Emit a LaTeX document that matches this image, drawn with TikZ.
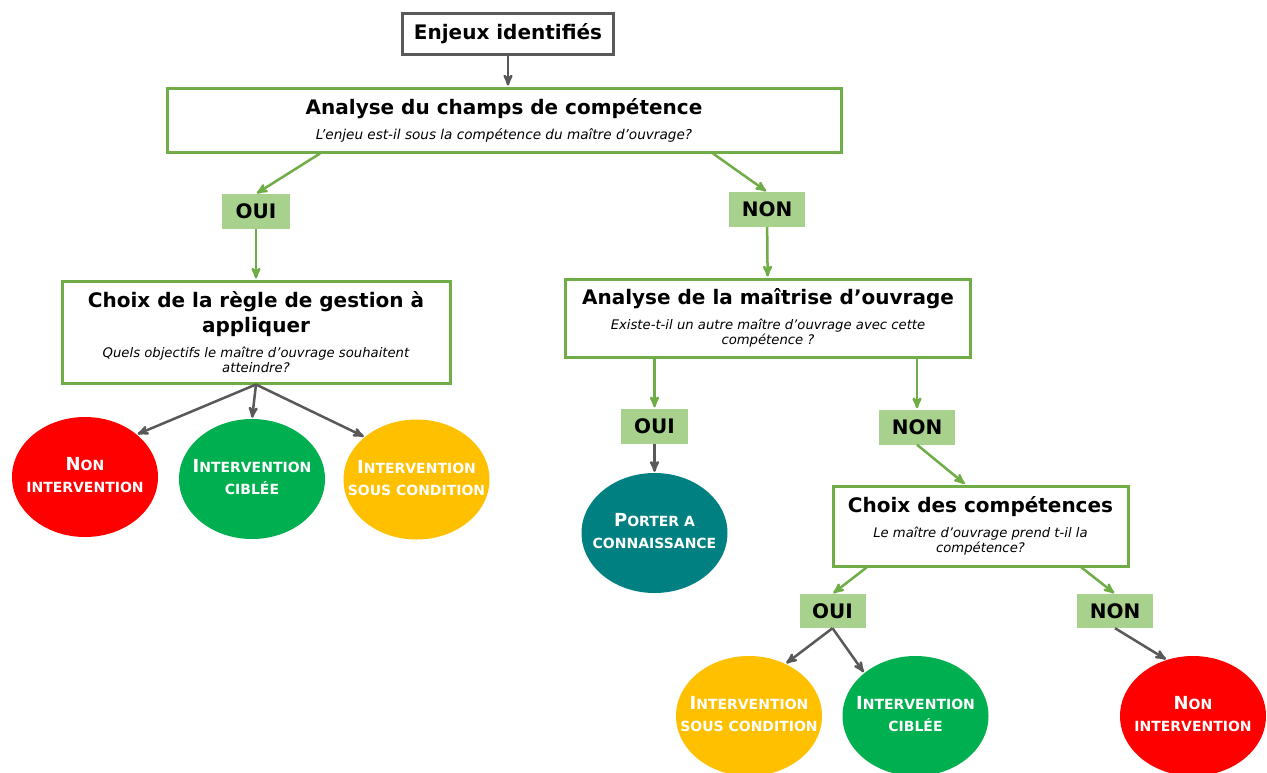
\documentclass[tikz,border=0pt]{standalone}
\usepackage{fontspec}
\setmainfont{DejaVu Sans}
\usetikzlibrary{shapes.geometric, arrows}

\definecolor{boxgreen}{HTML}{70AD47}
\definecolor{lblgreen}{HTML}{A9D18E}
\definecolor{arrowgray}{HTML}{595959}
\definecolor{resred}{HTML}{FF0000}
\definecolor{resgreen}{HTML}{00B050}
\definecolor{resyellow}{HTML}{FFC000}
\definecolor{resteal}{HTML}{008080}

\newcommand{\titlef}{\fontsize{20}{25}\selectfont\bfseries}
\newcommand{\capfirst}[2]{{\fontsize{18}{22}\selectfont #1}#2}
\newcommand{\restext}[2]{\smash{\makebox[0pt]{\raisebox{-4pt}{\begin{tabular}{@{}c@{}}#1\\#2\end{tabular}}}}}

\tikzset{
  question/.style={draw=boxgreen, line width=3pt, fill=white, align=center, inner sep=0pt,
    font=\fontsize{13.2}{25}\selectfont},
  answer/.style={fill=lblgreen, inner sep=0pt, minimum height=35pt, font=\fontsize{20}{24}\selectfont\bfseries},
  result/.style={ellipse, inner sep=0pt, minimum width=146pt, minimum height=120pt, text=white,
    font=\fontsize{14}{22}\selectfont\bfseries},
  greenarrow/.style={->, color=boxgreen, line width=2.5pt},
  grayarrow/.style={->, color=arrowgray, line width=2.5pt}
}

\begin{document}
\begin{tikzpicture}[x=1pt,y=-1pt,>=stealth',shorten >=1pt]
    \useasboundingbox (0,0) rectangle (1267,772);
    \fill[white] (0,0) rectangle (1267,772);

    \node[draw=arrowgray, line width=3pt, fill=white, inner sep=0pt, minimum width=211pt, minimum height=41pt, font=\titlef] (enjeux) at (508,33.5) {Enjeux identifiés};
    \node[question, minimum width=674pt, minimum height=64pt] (champ) at (504,120)
      {{\titlef Analyse du champs de compétence}\\{\fontsize{13.6}{25}\selectfont\itshape L’enjeu est-il sous la compétence du maître d’ouvrage?}};
    \node[answer, minimum width=68pt] (oui1) at (256,211.5) {OUI};
    \node[answer, minimum width=76pt] (non1) at (767,209.5) {NON};

    \node[question, minimum width=388pt, minimum height=102pt] (regle) at (256,332)
      {{\titlef Choix de la règle de gestion à}\\{\titlef appliquer}\\{\itshape Quels objectifs le maître d’ouvrage souhaitent}\\[-10pt]{\itshape atteindre?}};
    \node[result, fill=resred] (nonint1) at (85,477) {\restext{\capfirst{N}{ON}}{INTERVENTION}};
    \node[result, fill=resgreen] (cible1) at (252,479) {\restext{\capfirst{I}{NTERVENTION}}{CIBLÉE}};
    \node[result, fill=resyellow] (souscond1) at (416.5,479.5) {\restext{\capfirst{I}{NTERVENTION}}{SOUS CONDITION}};

    \node[question, minimum width=405pt, minimum height=78pt] (maitrise) at (768,318)
      {{\titlef Analyse de la maîtrise d’ouvrage}\\{\itshape Existe-t-il un autre maître d’ouvrage avec cette}\\[-10pt]{\itshape compétence ?}};
    \node[answer, minimum width=67pt] (oui2) at (654.5,426) {OUI};
    \node[answer, minimum width=76pt] (non2) at (917,427) {NON};
    \node[result, fill=resteal] (porter) at (654.5,533) {\restext{\capfirst{P}{ORTER A}}{CONNAISSANCE}};

    \node[question, minimum width=295pt, minimum height=80pt] (choix) at (980.5,526)
      {{\titlef Choix des compétences}\\{\itshape Le maître d’ouvrage prend t-il la}\\[-10pt]{\itshape compétence?}};
    \node[answer, minimum width=66pt, minimum height=34pt] (oui3) at (832.5,611) {OUI};
    \node[answer, minimum width=76pt, minimum height=34pt] (non3) at (1115,611) {NON};
    \node[result, fill=resyellow] (souscond2) at (749,716) {\restext{\capfirst{I}{NTERVENTION}}{SOUS CONDITION}};
    \node[result, fill=resgreen] (cible2) at (915.5,716) {\restext{\capfirst{I}{NTERVENTION}}{CIBLÉE}};
    \node[result, fill=resred] (nonint2) at (1193,716) {\restext{\capfirst{N}{ON}}{INTERVENTION}};

    \path[greenarrow]
      ([xshift=-184pt]champ.south) edge (oui1.north)
      ([xshift=209pt]champ.south)  edge (non1.north)
      (oui1) edge (regle)
      (non1) edge (maitrise)
      (maitrise.south -| oui2) edge (oui2)
      (maitrise.south -| non2) edge (non2)
      (non2.south) edge ([xshift=-15pt]choix.north)
      ([xshift=-114pt]choix.south) edge (oui3.north)
      ([xshift=101pt]choix.south)  edge (non3.north);

    \path[grayarrow]
      (enjeux.south) edge (enjeux.south |- champ.north)
      (regle.south) edge (nonint1.north east)
      (regle.south) edge (cible1.north)
      (regle.south) edge (souscond1.north west)
      (oui2) edge (porter)
      (oui3.south) edge (souscond2.55)
      (oui3.south) edge (cible2.140)
      (non3.south) edge (nonint2.115);
\end{tikzpicture}
\end{document}
